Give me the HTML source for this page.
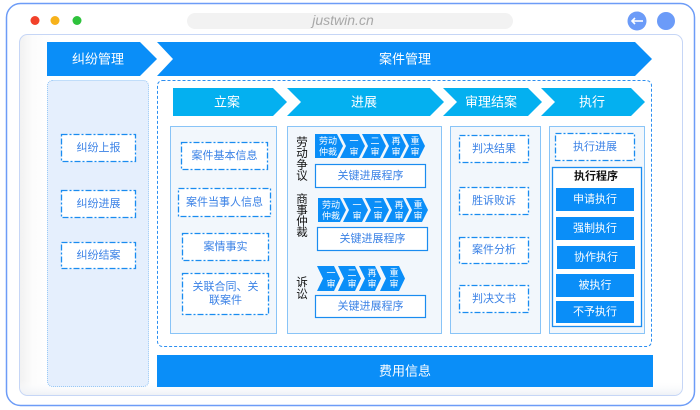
<!DOCTYPE html>
<html><head><meta charset="utf-8"><style>
html,body{margin:0;padding:0;background:#fff;width:700px;height:410px;overflow:hidden}
svg{display:block}
text{font-family:"Liberation Sans","Noto Sans CJK SC",sans-serif}
</style></head><body>
<svg width="700" height="410" viewBox="0 0 700 410" xmlns="http://www.w3.org/2000/svg">
<defs>
<linearGradient id="lg" x1="0" x2="1" y1="0" y2="0">
<stop offset="0" stop-color="#f1f1f1"/><stop offset="0.02" stop-color="#fcfcfc"/><stop offset="0.05" stop-color="#fff"/><stop offset="1" stop-color="#fff"/>
</linearGradient>
<linearGradient id="bg" x1="0" x2="0" y1="0" y2="1">
<stop offset="0.96" stop-color="#fff" stop-opacity="0"/><stop offset="1" stop-color="#eef1f6"/>
</linearGradient>
</defs>
<!-- outer window -->
<rect x="6.5" y="3.5" width="688" height="402" rx="14" fill="#fff" stroke="#6d9cf7" stroke-width="1.5"/>
<circle cx="35" cy="20.5" r="4.5" fill="#f2412a"/>
<circle cx="55" cy="20.5" r="4.5" fill="#f7b21b"/>
<circle cx="77" cy="20.5" r="4.5" fill="#2ec23c"/>
<rect x="187" y="13" width="326" height="16" rx="8" fill="#f2f2f2"/>
<text x="343" y="25" font-size="14" font-style="italic" fill="#a8a8a8" text-anchor="middle" style="font-family:'Liberation Sans',sans-serif">justwin.cn</text>
<circle cx="637" cy="21" r="9.5" fill="#6b9bf8"/>
<path d="M632 21 H643" stroke="#fff" stroke-width="1.6"/>
<path d="M635 18 L632 21 L635 24" stroke="#fff" stroke-width="1.6" fill="none"/>
<circle cx="666" cy="21" r="9" fill="#6b9bf8"/>
<!-- inner panel -->
<rect x="19.5" y="34.5" width="663" height="361" rx="8" fill="url(#lg)" stroke="#c6d6f6" stroke-width="1"/>
<rect x="20" y="35" width="662" height="360" rx="8" fill="url(#bg)"/>

<!-- headers -->
<polygon points="47,42 140,42 157,59 140,76 47,76" fill="#0a8ef8"/>
<polygon points="157,42 635,42 652,59 635,76 157,76 173,59" fill="#0a8ef8"/>
<text x="98" y="59" font-size="13" fill="#fff" text-anchor="middle" dominant-baseline="central">纠纷管理</text>
<text x="405" y="59" font-size="13" fill="#fff" text-anchor="middle" dominant-baseline="central">案件管理</text>

<!-- left panel -->
<rect x="47.5" y="80.5" width="101" height="306" rx="5" fill="#e5effd" stroke="#8fc3f5" stroke-dasharray="1 1"/>
<g fill="#fff" stroke="#1a8cf0" stroke-width="1.3" stroke-dasharray="6 2 2 2">
<rect x="61.5" y="134.5" width="74" height="27"/>
<rect x="61.5" y="190.5" width="74" height="27"/>
<rect x="61.5" y="242.5" width="74" height="26"/>
</g>
<g font-size="11" fill="#3b82e6" text-anchor="middle" dominant-baseline="central">
<text x="98.5" y="148">纠纷上报</text>
<text x="98.5" y="204">纠纷进展</text>
<text x="98.5" y="255.5">纠纷结案</text>
</g>

<!-- main panel -->
<rect x="157.5" y="80.5" width="494" height="266" rx="5" fill="#fff" stroke="#2c8ef0" stroke-dasharray="3 2"/>
<g fill="#04b0f0">
<polygon points="173,88 273,88 287,102 273,116 173,116"/>
<polygon points="287,88 430,88 444,102 430,116 287,116 301,102"/>
<polygon points="443,88 528,88 542,102 528,116 443,116 457,102"/>
<polygon points="541,88 631,88 645,102 631,116 541,116 555,102"/>
</g>
<g font-size="13" fill="#fff" text-anchor="middle" dominant-baseline="central">
<text x="227" y="102">立案</text>
<text x="364" y="102">进展</text>
<text x="491" y="102">审理结案</text>
<text x="592" y="102">执行</text>
</g>

<!-- columns -->
<g fill="#f2f7fc" stroke="#1a8cf0" stroke-dasharray="1 1">
<rect x="170.5" y="126.5" width="106" height="207"/>
<rect x="287.5" y="126.5" width="154" height="207"/>
<rect x="450.5" y="126.5" width="90" height="207"/>
<rect x="549.5" y="126.5" width="95" height="207"/>
</g>

<!-- col1 -->
<g fill="#fff" stroke="#1a8cf0" stroke-width="1.3" stroke-dasharray="6 2 2 2">
<rect x="181.5" y="142.5" width="86" height="27"/>
<rect x="178.5" y="188.5" width="92" height="28"/>
<rect x="182.5" y="233.5" width="86" height="27"/>
<rect x="182.5" y="273.5" width="86" height="41"/>
</g>
<g font-size="11" fill="#3b82e6" text-anchor="middle" dominant-baseline="central">
<text x="224.5" y="156">案件基本信息</text>
<text x="224.5" y="202.5">案件当事人信息</text>
<text x="225.5" y="247">案情事实</text>
<text x="225.5" y="287">关联合同、关</text>
<text x="225.5" y="300.5">联案件</text>
</g>

<!-- col2 vertical labels -->
<g font-size="11.5" fill="#111" text-anchor="middle" dominant-baseline="central">
<text x="302" y="143">劳</text><text x="302" y="154">动</text><text x="302" y="165.5">争</text><text x="302" y="176.5">议</text>
<text x="302" y="200">商</text><text x="302" y="211">事</text><text x="302" y="222">仲</text><text x="302" y="233">裁</text>
<text x="302" y="283">诉</text><text x="302" y="295">讼</text>
</g>

<!-- chevrons row1 -->
<g fill="#0a8ef8">
<polygon points="315,134 337,134 343,146 337,158 315,158"/>
<polygon points="340,134 359,134 365,146 359,158 340,158 346,146"/>
<polygon points="362,134 380,134 386,146 380,158 362,158 368,146"/>
<polygon points="383,134 400,134 406,146 400,158 383,158 389,146"/>
<polygon points="403,134 419,134 425,146 419,158 403,158 409,146"/>
</g>
<g font-size="9" fill="#fff" text-anchor="middle" dominant-baseline="central">
<text x="328" y="141">劳动</text><text x="328" y="152">仲裁</text>
<text x="354" y="141">一</text><text x="354" y="152">审</text>
<text x="375" y="141">二</text><text x="375" y="152">审</text>
<text x="396" y="141">再</text><text x="396" y="152">审</text>
<text x="415" y="141">重</text><text x="415" y="152">审</text>
</g>
<rect x="315.5" y="164.5" width="110" height="23" fill="#fff" stroke="#1a8cf0" stroke-width="1.2"/>
<text x="370.5" y="176" font-size="11" fill="#3b82e6" text-anchor="middle" dominant-baseline="central">关键进展程序</text>

<!-- chevrons row2 -->
<g fill="#0a8ef8">
<polygon points="318,198 340,198 346,210 340,222 318,222"/>
<polygon points="343,198 362,198 368,210 362,222 343,222 349,210"/>
<polygon points="365,198 383,198 389,210 383,222 365,222 371,210"/>
<polygon points="386,198 403,198 409,210 403,222 386,222 392,210"/>
<polygon points="406,198 422,198 428,210 422,222 406,222 412,210"/>
</g>
<g font-size="9" fill="#fff" text-anchor="middle" dominant-baseline="central">
<text x="331" y="205">劳动</text><text x="331" y="216">仲裁</text>
<text x="357" y="205">一</text><text x="357" y="216">审</text>
<text x="378" y="205">二</text><text x="378" y="216">审</text>
<text x="399" y="205">再</text><text x="399" y="216">审</text>
<text x="418" y="205">重</text><text x="418" y="216">审</text>
</g>
<rect x="317.5" y="227.5" width="110" height="23" fill="#fff" stroke="#1a8cf0" stroke-width="1.2"/>
<text x="372.5" y="239" font-size="11" fill="#3b82e6" text-anchor="middle" dominant-baseline="central">关键进展程序</text>

<!-- chevrons row3 -->
<g fill="#0a8ef8">
<polygon points="317,266 334,266 340,278.5 334,291 317,291 323,278.5"/>
<polygon points="338,266 355,266 361,278.5 355,291 338,291 344,278.5"/>
<polygon points="359,266 375,266 381,278.5 375,291 359,291 365,278.5"/>
<polygon points="380,266 399,266 405,278.5 399,291 380,291 386,278.5"/>
</g>
<g font-size="9" fill="#fff" text-anchor="middle" dominant-baseline="central">
<text x="331" y="273">一</text><text x="331" y="284">审</text>
<text x="352" y="273">二</text><text x="352" y="284">审</text>
<text x="372" y="273">再</text><text x="372" y="284">审</text>
<text x="394" y="273">重</text><text x="394" y="284">审</text>
</g>
<rect x="315.5" y="295.5" width="110" height="22" fill="#fff" stroke="#1a8cf0" stroke-width="1.2"/>
<text x="370.5" y="306.5" font-size="11" fill="#3b82e6" text-anchor="middle" dominant-baseline="central">关键进展程序</text>

<!-- col3 -->
<g fill="#fff" stroke="#1a8cf0" stroke-width="1.3" stroke-dasharray="6 2 2 2">
<rect x="459.5" y="135.5" width="69" height="27"/>
<rect x="459.5" y="187.5" width="69" height="27"/>
<rect x="459.5" y="237.5" width="69" height="26"/>
<rect x="459.5" y="285.5" width="69" height="27"/>
</g>
<g font-size="11" fill="#3b82e6" text-anchor="middle" dominant-baseline="central">
<text x="494" y="149">判决结果</text>
<text x="494" y="201">胜诉败诉</text>
<text x="494" y="250">案件分析</text>
<text x="494" y="299">判决文书</text>
</g>

<!-- col4 -->
<rect x="555.5" y="133.5" width="79" height="27" fill="#fff" stroke="#1a8cf0" stroke-width="1.3" stroke-dasharray="6 2 2 2"/>
<text x="595" y="147" font-size="11" fill="#3b82e6" text-anchor="middle" dominant-baseline="central">执行进展</text>
<rect x="552.5" y="167.5" width="89" height="159" fill="#fff" stroke="#1a8cf0" stroke-width="1.3"/>
<text x="596" y="176.5" font-size="11" font-weight="bold" fill="#111" text-anchor="middle" dominant-baseline="central">执行程序</text>
<g fill="#0a8ef8">
<rect x="556" y="188" width="78" height="23"/>
<rect x="556" y="217" width="78" height="23"/>
<rect x="557" y="246" width="78" height="23"/>
<rect x="556" y="274" width="78" height="23"/>
<rect x="556" y="301" width="78" height="22"/>
</g>
<g font-size="11" fill="#fff" text-anchor="middle" dominant-baseline="central">
<text x="595" y="199.5">申请执行</text>
<text x="595" y="228.5">强制执行</text>
<text x="596" y="257.5">协作执行</text>
<text x="595" y="285.5">被执行</text>
<text x="595" y="312">不予执行</text>
</g>

<!-- bottom bar -->
<rect x="157" y="355" width="496" height="32" fill="#0a8ef8"/>
<text x="405" y="371" font-size="13" fill="#fff" text-anchor="middle" dominant-baseline="central">费用信息</text>
</svg>
</body></html>
